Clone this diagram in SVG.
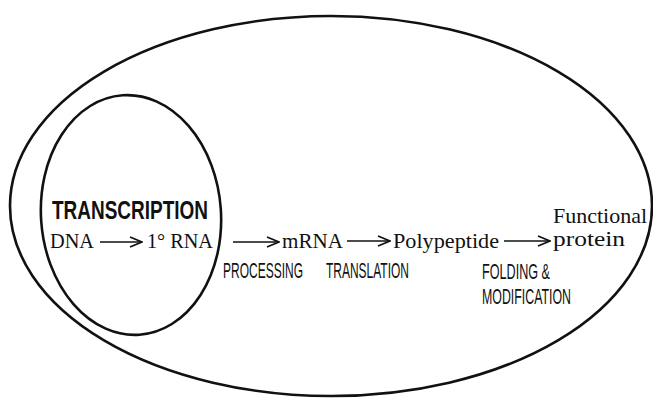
<svg xmlns="http://www.w3.org/2000/svg" width="653" height="398" viewBox="0 0 653 398">
<style>
.shape{fill:none;stroke:#111;stroke-width:2.6}
.serif{font-family:"Liberation Serif","Times New Roman",serif;font-size:21px;fill:#111}
.cond{font-family:"Liberation Sans",Arial,sans-serif;font-size:22px;fill:#111}
.bold{font-family:"Liberation Sans",Arial,sans-serif;font-size:25px;font-weight:bold;fill:#111}
.conn line{stroke:#111;stroke-width:1.6}
</style>
<defs>
<marker id="chev" viewBox="0 0 14 12" refX="13" refY="6" markerWidth="14" markerHeight="12" markerUnits="userSpaceOnUse" orient="auto">
<path d="M1,1 L13,6 L1,11" fill="none" stroke="#111" stroke-width="1.8"/>
</marker>
</defs>
<rect width="653" height="398" fill="#fff"/>
<g id="outer">
<ellipse class="shape" cx="331" cy="206" rx="321" ry="190"/>
</g>
<g id="transcription">
<ellipse class="shape" cx="131" cy="215" rx="90" ry="120" transform="rotate(-4 131 215)"/>
<text class="bold" transform="translate(52 219) scale(0.74 1)" x="0" y="0" textLength="210.8" lengthAdjust="spacingAndGlyphs">TRANSCRIPTION</text>
</g>
<g id="dna"><text class="serif" x="50" y="248" textLength="44" lengthAdjust="spacingAndGlyphs">DNA</text></g>
<g id="rna1"><text class="serif" x="147" y="248" textLength="66" lengthAdjust="spacingAndGlyphs">1° RNA</text></g>
<g id="mrna"><text class="serif" x="282" y="248" textLength="61" lengthAdjust="spacingAndGlyphs">mRNA</text></g>
<g id="polypeptide"><text class="serif" x="393" y="248" textLength="106" lengthAdjust="spacingAndGlyphs">Polypeptide</text></g>
<g id="protein">
<text class="serif" x="553" y="223" textLength="94" lengthAdjust="spacingAndGlyphs">Functional</text>
<text class="serif" x="553" y="246" textLength="72" lengthAdjust="spacingAndGlyphs">protein</text>
</g>
<g id="labels">
<text class="cond" transform="translate(223 278) scale(0.55 1)" x="0" y="0" textLength="145.5" lengthAdjust="spacingAndGlyphs">PROCESSING</text>
<text class="cond" transform="translate(326 278) scale(0.55 1)" x="0" y="0" textLength="150.9" lengthAdjust="spacingAndGlyphs">TRANSLATION</text>
<text class="cond" transform="translate(482 279) scale(0.55 1)" x="0" y="0" textLength="123.6" lengthAdjust="spacingAndGlyphs">FOLDING &amp;</text>
<text class="cond" transform="translate(482 304) scale(0.55 1)" x="0" y="0" textLength="161.8" lengthAdjust="spacingAndGlyphs">MODIFICATION</text>
</g>
<g id="connectors" class="conn">
<line x1="100" y1="242" x2="142" y2="242" marker-end="url(#chev)"/>
<line x1="233" y1="242" x2="279" y2="242" marker-end="url(#chev)"/>
<line x1="347" y1="241" x2="390" y2="241" marker-end="url(#chev)"/>
<line x1="504" y1="241" x2="550" y2="241" marker-end="url(#chev)"/>
</g>
</svg>
